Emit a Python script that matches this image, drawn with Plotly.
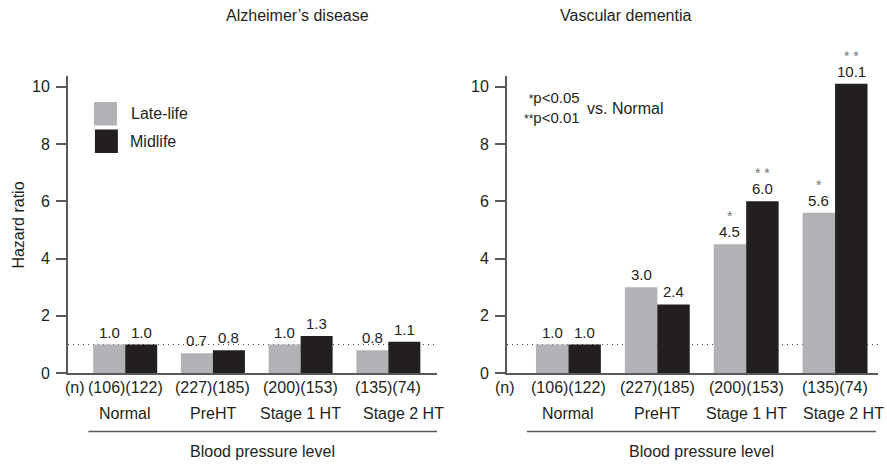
import plotly.graph_objects as go

# ---- data ----
categories = ["Normal", "PreHT", "Stage 1 HT", "Stage 2 HT"]
n_labels = ["(106)(122)", "(227)(185)", "(200)(153)", "(135)(74)"]
series_names = ["Late-life", "Midlife"]

ad_late = [1.0, 0.7, 1.0, 0.8]
ad_mid = [1.0, 0.8, 1.3, 1.1]
vad_late = [1.0, 3.0, 4.5, 5.6]
vad_mid = [1.0, 2.4, 6.0, 10.1]
vad_late_sig = ["", "", "*", "*"]
vad_mid_sig = ["", "", "* *", "* *"]
y_ticks = [0, 2, 4, 6, 8, 10]

# ---- style ----
W, H = 887, 470
FONT = "Liberation Sans, Arial, Helvetica, sans-serif"
TEXT = "#231f20"
AXIS = "#58595b"
GREY = "#b1b2b6"
BLACK = "#231f20"
BAR_W = 0.365
FS = 16        # general text size
FS_VAL = 15    # bar value labels


def px(x):
    return x / W


def py(y):
    return 1 - y / H


panels = [
    dict(xa="x", ya="y", dom=[px(68), px(437)], rng=[-0.652, 3.555],
         late=ad_late, mid=ad_mid, late_sig=None, mid_sig=None,
         title="Alzheimer’s disease", title_x=224, line=[-0.42, 3.555],
         n_x=62.5, last_shift=15),
    dict(xa="x2", ya="y2", dom=[px(507), px(878)], rng=[-0.691, 3.483],
         late=vad_late, mid=vad_mid, late_sig=vad_late_sig, mid_sig=vad_mid_sig,
         title="Vascular dementia", title_x=693, line=[-0.466, 3.461],
         n_x=505, last_shift=8),
]

fig = go.Figure()
annotations = []
shapes = []
pos = list(range(len(categories)))

for i, p in enumerate(panels):
    fig.add_trace(go.Bar(x=pos, y=p["late"], name=series_names[0], xaxis=p["xa"], yaxis=p["ya"],
                         offset=-BAR_W, width=BAR_W, marker=dict(color=GREY, line=dict(width=0)),
                         showlegend=False, hoverinfo="skip"))
    fig.add_trace(go.Bar(x=pos, y=p["mid"], name=series_names[1], xaxis=p["xa"], yaxis=p["ya"],
                         offset=0, width=BAR_W, marker=dict(color=BLACK, line=dict(width=0)),
                         showlegend=False, hoverinfo="skip"))

    # value labels and significance stars
    for vals, sigs, off in ((p["late"], p["late_sig"], -BAR_W / 2), (p["mid"], p["mid_sig"], BAR_W / 2)):
        for k, v in enumerate(vals):
            annotations.append(dict(x=k + off, y=v, xref=p["xa"], yref=p["ya"], text=f"{v:.1f}",
                                    showarrow=False, yanchor="bottom", yshift=2,
                                    font=dict(size=FS_VAL, color=TEXT, family=FONT)))
            if sigs and sigs[k]:
                annotations.append(dict(x=k + off, y=v, xref=p["xa"], yref=p["ya"], text=sigs[k],
                                        showarrow=False, yanchor="bottom", yshift=18,
                                        font=dict(size=14, color="#757575", family=FONT)))

    # reference line at HR = 1
    shapes.append(dict(type="line", xref=f"{p['xa']} domain", yref=p["ya"], x0=0, x1=1, y0=1, y1=1,
                       line=dict(color="#444444", width=1, dash="1px,4px"), layer="below"))

    # group sizes and category names
    for k in pos:
        annotations.append(dict(x=k, y=py(395), xref=p["xa"], yref="paper", text=n_labels[k],
                                showarrow=False, yanchor="middle",
                                font=dict(size=FS, color=TEXT, family=FONT)))
        annotations.append(dict(x=k, y=py(422), xref=p["xa"], yref="paper", text=categories[k],
                                showarrow=False, yanchor="middle",
                                xshift=p["last_shift"] if k == len(pos) - 1 else 0,
                                font=dict(size=FS, color=TEXT, family=FONT)))
    annotations.append(dict(x=px(p["n_x"]), y=py(395), xref="paper", yref="paper", text="(n)",
                            showarrow=False, yanchor="middle",
                            font=dict(size=FS, color=TEXT, family=FONT)))

    # bracket line and axis caption
    shapes.append(dict(type="line", xref=p["xa"], yref="paper", x0=p["line"][0], x1=p["line"][1],
                       y0=py(440), y1=py(440), line=dict(color=AXIS, width=1.5)))
    annotations.append(dict(x=(p["line"][0] + p["line"][1]) / 2, y=py(460), xref=p["xa"], yref="paper",
                            text="Blood pressure level", showarrow=False, yanchor="middle",
                            font=dict(size=FS, color=TEXT, family=FONT)))

    # panel title
    annotations.append(dict(x=px(p["title_x"]), y=py(16), xref="paper", yref="paper", text=p["title"],
                            showarrow=False, yanchor="middle",
                            font=dict(size=FS, color=TEXT, family=FONT)))

# y-axis title
annotations.append(dict(x=px(19), y=py(230), xref="paper", yref="paper", text="Hazard ratio",
                        showarrow=False, textangle=-90, xanchor="center", yanchor="middle",
                        font=dict(size=FS, color=TEXT, family=FONT)))

# legend swatches
shapes.append(dict(type="rect", xref="x", yref="y", x0=-0.356, x1=-0.094, y0=8.641, y1=9.463,
                   fillcolor=GREY, line=dict(width=0)))
shapes.append(dict(type="rect", xref="x", yref="y", x0=-0.345, x1=-0.083, y0=7.683, y1=8.504,
                   fillcolor=BLACK, line=dict(width=0)))
annotations.append(dict(x=px(129), y=py(116), xref="paper", yref="paper", text=series_names[0],
                        showarrow=False, xanchor="left", yanchor="middle",
                        font=dict(size=FS, color=TEXT, family=FONT)))
annotations.append(dict(x=px(128), y=py(144), xref="paper", yref="paper", text=series_names[1],
                        showarrow=False, xanchor="left", yanchor="middle",
                        font=dict(size=FS, color=TEXT, family=FONT)))

# significance key
annotations.append(dict(x=px(582), y=py(110), xref="paper", yref="paper",
                        text="<span style='font-size:12px'>*</span>p&lt;0.05<br>"
                             "<span style='font-size:12px'>**</span>p&lt;0.01",
                        showarrow=False, xanchor="right", yanchor="middle", align="right",
                        font=dict(size=15, color=TEXT, family=FONT)))
annotations.append(dict(x=px(585), y=py(111), xref="paper", yref="paper", text="vs. Normal",
                        showarrow=False, xanchor="left", yanchor="middle",
                        font=dict(size=FS, color=TEXT, family=FONT)))

x_common = dict(showline=True, linecolor=AXIS, linewidth=2, showgrid=False, zeroline=False,
                showticklabels=False, ticks="", fixedrange=True)
y_common = dict(range=[0, 10.376], tickvals=y_ticks, showline=True, linecolor=AXIS, linewidth=2,
                ticks="outside", ticklen=10, tickwidth=1.5, tickcolor=AXIS, showgrid=False,
                zeroline=False, tickfont=dict(size=FS, color=TEXT, family=FONT),
                domain=[py(380.5), py(77.3)], ticklabelstandoff=3)

fig.update_layout(
    width=W, height=H, margin=dict(l=0, r=0, t=0, b=0),
    paper_bgcolor="white", plot_bgcolor="white",
    barmode="overlay", showlegend=False,
    xaxis=dict(domain=panels[0]["dom"], range=panels[0]["rng"], anchor="y", **x_common),
    xaxis2=dict(domain=panels[1]["dom"], range=panels[1]["rng"], anchor="y2", **x_common),
    yaxis=dict(anchor="x", **y_common),
    yaxis2=dict(anchor="x2", **y_common),
    annotations=annotations, shapes=shapes,
    font=dict(family=FONT, color=TEXT),
)

fig.write_html("out.html")
